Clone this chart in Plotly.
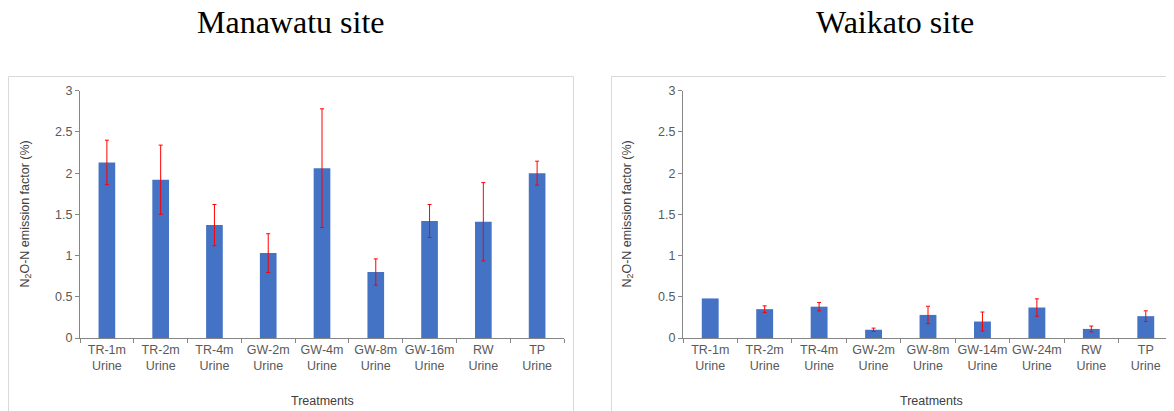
import plotly.graph_objects as go

W, H = 1174, 411
OFF = 8  # page body margin offset

# Data
man_cats = ["TR-1m<br>Urine", "TR-2m<br>Urine", "TR-4m<br>Urine", "GW-2m<br>Urine", "GW-4m<br>Urine",
            "GW-8m<br>Urine", "GW-16m<br>Urine", "RW<br>Urine", "TP<br>Urine"]
man_vals = [2.13, 1.92, 1.37, 1.03, 2.06, 0.80, 1.42, 1.41, 2.00]
man_err = [0.27, 0.42, 0.25, 0.235, 0.72, 0.16, 0.20, 0.475, 0.145]

wai_cats = ["TR-1m<br>Urine", "TR-2m<br>Urine", "TR-4m<br>Urine", "GW-2m<br>Urine", "GW-8m<br>Urine",
            "GW-14m<br>Urine", "GW-24m<br>Urine", "RW<br>Urine", "TP<br>Urine"]
wai_vals = [0.48, 0.35, 0.38, 0.10, 0.28, 0.20, 0.37, 0.11, 0.265]
wai_err = [None, 0.04, 0.05, 0.02, 0.105, 0.115, 0.105, 0.035, 0.065]

y_ticks = [0, 0.5, 1, 1.5, 2, 2.5, 3]
y_ticktext = ["0", "0.5", "1", "1.5", "2", "2.5", "3"]

BAR = "#4472C4"
AX = "#868686"
TXT = "#595959"
FONT = "Liberation Sans, Arial, sans-serif"

def px(x):
    return (x - OFF) / W

def py(y):
    return 1 - (y - OFF) / H

fig = go.Figure()

fig.add_trace(go.Bar(x=man_cats, y=man_vals, marker=dict(color=BAR, line=dict(width=0)),
                     error_y=dict(type="data", array=man_err, color="#FF0000", thickness=1, width=2),
                     xaxis="x", yaxis="y", width=0.31, showlegend=False))
fig.add_trace(go.Bar(x=wai_cats, y=wai_vals, marker=dict(color=BAR, line=dict(width=0)),
                     xaxis="x2", yaxis="y2", width=0.31, showlegend=False))
# error bars only where the reference shows them
err_idx = [i for i, e in enumerate(wai_err) if e is not None]
fig.add_trace(go.Bar(x=[wai_cats[i] for i in err_idx], y=[wai_vals[i] for i in err_idx],
                     marker=dict(color="rgba(0,0,0,0)", line=dict(width=0)),
                     error_y=dict(type="data", array=[wai_err[i] for i in err_idx], color="#FF0000",
                                  thickness=1, width=2),
                     xaxis="x2", yaxis="y2", width=0.31, showlegend=False))

y0, y3 = 338.0, 90.7
ydom = [py(y0), py(y3)]

common_x = dict(showline=True, linecolor=AX, linewidth=1, ticks="outside", tickson="boundaries",
                ticklen=4, tickcolor=AX, showgrid=False, zeroline=False, tickangle=0, automargin=False,
                tickfont=dict(family=FONT, size=12.5, color=TXT), fixedrange=True,
                categoryorder="array")
common_y = dict(range=[0, 3], tickvals=y_ticks, ticktext=y_ticktext, showline=True, linecolor=AX,
                linewidth=1, ticks="outside", ticklen=4, tickcolor=AX, showgrid=False, zeroline=False,
                automargin=False, tickfont=dict(family=FONT, size=12.5, color=TXT), fixedrange=True)

fig.update_layout(
    width=W, height=H,
    margin=dict(l=0, r=0, t=0, b=0, autoexpand=False),
    paper_bgcolor="white", plot_bgcolor="white",
    barmode="overlay",
    xaxis=dict(domain=[px(80), px(564)], anchor="y", categoryarray=man_cats, **common_x),
    yaxis=dict(domain=ydom, anchor="x", **common_y),
    xaxis2=dict(domain=[px(683), px(1173)], anchor="y2", categoryarray=wai_cats, **common_x),
    yaxis2=dict(domain=ydom, anchor="x2", **common_y),
)

# Panel boxes
fig.add_shape(type="rect", xref="paper", yref="paper", x0=px(8.5), x1=px(573.5), y0=py(425), y1=py(76.5),
              line=dict(color="#D9D9D9", width=1), fillcolor="rgba(0,0,0,0)", layer="below")
fig.add_shape(type="rect", xref="paper", yref="paper", x0=px(611.5), x1=px(1190), y0=py(425), y1=py(76.5),
              line=dict(color="#D9D9D9", width=1), fillcolor="rgba(0,0,0,0)", layer="below")

# Titles
for txt, cx in [("Manawatu site", 290.5), ("Waikato site", 895)]:
    fig.add_annotation(text=txt, x=px(cx), y=py(22), xref="paper", yref="paper", showarrow=False,
                       xanchor="center", yanchor="middle",
                       font=dict(family="Liberation Serif, Times New Roman, serif", size=32, color="#000000"))

# Axis titles
for cx, tx in [(25.5, 322), (627.5, 931)]:
    fig.add_annotation(text="N<sub>2</sub>O-N emission factor (%)", x=px(cx), y=py(214), xref="paper",
                       yref="paper", showarrow=False, textangle=-90, xanchor="center", yanchor="middle",
                       font=dict(family=FONT, size=12.5, color="#404040"))
    fig.add_annotation(text="Treatments", x=px(tx), y=py(400.5), xref="paper", yref="paper",
                       showarrow=False, xanchor="center", yanchor="middle",
                       font=dict(family=FONT, size=12.5, color="#404040"))

fig.write_html("out.html")
